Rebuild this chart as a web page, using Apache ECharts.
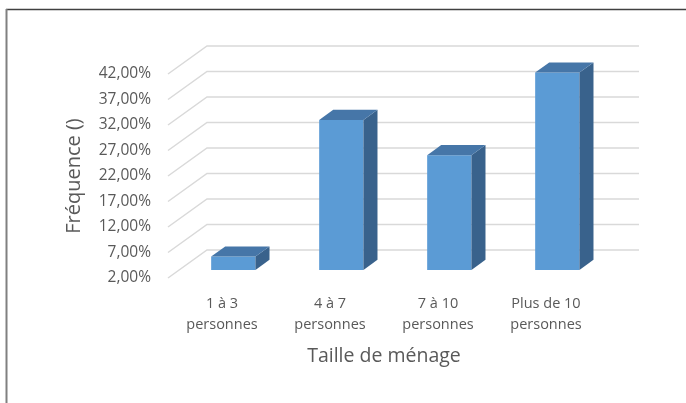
<!DOCTYPE html>
<html>
<head>
<meta charset="utf-8">
<script src="https://cdn.jsdelivr.net/npm/echarts@6/dist/echarts.min.js"></script>
<style>
  html, body { margin: 0; padding: 0; background: #fff; }
  #chart { width: 686px; height: 403px; }
</style>
</head>
<body>
<div id="chart"></div>
<script>
  // categories and values
  var categories = ['1 à 3\npersonnes', '4 à 7\npersonnes', '7 à 10\npersonnes', 'Plus de 10\npersonnes'];
  var frequences = [4.6, 31.4, 24.5, 40.7];
  var yTicks = [2, 7, 12, 17, 22, 27, 32, 37, 42];

  // fake 3D depth (pixels from front plane to back wall)
  var DX = 39, DY = -28;
  var F0 = 0.29, F1 = 0.36;

  var chart = echarts.init(document.getElementById('chart'));

  function gridRender(params, api) {
    var v = api.value(1);
    var p0 = api.coord([0, v]);
    var p1 = api.coord([categories.length - 1, v]);
    var band = api.size([1, 0])[0];
    var xl = p0[0] - band / 2, xr = p1[0] + band / 2, y = p0[1];
    return {
      type: 'polyline',
      shape: { points: [[xl, y], [xl + DX, y + DY], [xr + DX, y + DY]] },
      style: { stroke: '#d9d9d9', lineWidth: 1.5, fill: null }
    };
  }

  function barRender(params, api) {
    var i = api.value(0);
    var top = api.coord([i, api.value(1)]);
    var bot = api.coord([i, yTicks[0]]);
    var band = api.size([1, 0])[0];
    var w = band * 0.41;
    var ox = DX * F0, oy = DY * F0;
    var dx = DX * F1, dy = DY * F1;
    var x0 = top[0] + ox - w / 2, x1 = top[0] + ox + w / 2;
    var yt = top[1] + oy, yb = bot[1] + oy;
    return {
      type: 'group',
      children: [
        { type: 'polygon', shape: { points: [[x0, yt], [x1, yt], [x1, yb], [x0, yb]] },
          style: { fill: '#5b9bd5' } },
        { type: 'polygon', shape: { points: [[x1, yt], [x1 + dx, yt + dy], [x1 + dx, yb + dy], [x1, yb]] },
          style: { fill: '#39628c' } },
        { type: 'polygon', shape: { points: [[x0, yt], [x0 + dx, yt + dy], [x1 + dx, yt + dy], [x1, yt]] },
          style: { fill: '#4676a8' } }
      ]
    };
  }

  chart.setOption({
    animation: false,
    textStyle: { fontFamily: 'Open Sans' },
    graphic: [
      { type: 'line', shape: { x1: 6, y1: 9.5, x2: 686, y2: 9.5 }, style: { stroke: '#404040', lineWidth: 1.5 } },
      { type: 'line', shape: { x1: 6.5, y1: 9, x2: 6.5, y2: 403 }, style: { stroke: '#808080', lineWidth: 2 } }
    ],
    grid: { left: 168, right: 86, top: 74, bottom: 125 },
    xAxis: {
      type: 'category',
      data: categories,
      axisLine: { show: false },
      axisTick: { show: false },
      axisLabel: { color: '#595959', fontSize: 14.5, lineHeight: 21, margin: 15 },
      name: 'Taille de ménage',
      nameLocation: 'middle',
      nameGap: 68,
      nameTextStyle: { color: '#595959', fontSize: 19.5 }
    },
    yAxis: {
      type: 'value',
      min: 2,
      max: 42,
      interval: 5,
      axisLine: { show: false },
      axisTick: { show: false },
      splitLine: { show: false },
      axisLabel: {
        color: '#595959', fontSize: 15.5, margin: 17, padding: [4, 0, 0, 0],
        formatter: function (v) { return v.toFixed(2).replace('.', ',') + '%'; }
      },
      name: 'Fréquence ()',
      nameLocation: 'middle',
      nameGap: 84,
      nameTextStyle: { color: '#595959', fontSize: 20 }
    },
    series: [
      {
        type: 'custom',
        renderItem: gridRender,
        data: yTicks.map(function (v) { return [0, v]; }),
        silent: true,
        z: 1
      },
      {
        type: 'custom',
        renderItem: barRender,
        data: frequences.map(function (v, i) { return [i, v]; }),
        z: 2
      }
    ]
  });
</script>
</body>
</html>
